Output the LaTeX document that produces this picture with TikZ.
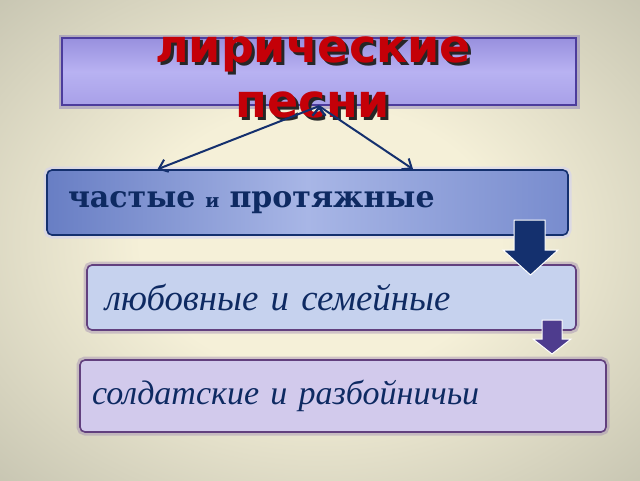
\documentclass[tikz,border=0pt]{standalone}
\usepackage{fontspec}
\usetikzlibrary{arrows.meta,calc}
\newfontfamily\titlefont{DejaVu Sans}
\newfontfamily\boxfont{DejaVu Serif}
\newfontfamily\italfont{Liberation Serif}
\definecolor{navy}{HTML}{14306E}
\definecolor{inknavy}{HTML}{0E2A62}
\definecolor{titlered}{HTML}{C40008}
\definecolor{lilac}{HTML}{4C3C9C}
\definecolor{plum}{HTML}{62407E}
\definecolor{beige}{HTML}{F5F0D8}
\definecolor{olivegrey}{HTML}{A6A696}
\definecolor{titletop}{RGB}{152,144,222}
\definecolor{titlemid}{RGB}{184,178,242}
\definecolor{titlebot}{RGB}{168,160,232}
\definecolor{fastleft}{RGB}{104,126,196}
\definecolor{fastmid}{RGB}{168,182,230}
\definecolor{fastright}{RGB}{120,140,206}
\definecolor{lovefill}{RGB}{198,210,238}
\definecolor{soldierfill}{RGB}{210,202,236}
\definecolor{violetarrow}{RGB}{78,60,142}
\pgfdeclareradialshading{hall}{\pgfpoint{0bp}{0bp}}{color(0bp)=(beige);
  color(14bp)=(beige); color(52bp)=(olivegrey); color(80bp)=(olivegrey)}

\begin{document}
\begin{tikzpicture}[x=1pt,y=-1pt,>={Straight Barb[length=8pt,width=13pt]},thick,
    box/.style={rounded corners=5pt,line width=1.6pt,text width=#1,align=left,
      inner ysep=0pt,minimum height=65pt},
    glow/.style={preaction={draw=#1,draw opacity=.45,line width=7pt}},
    link/.style={->,draw=navy,line width=2pt},
    bigarrow/.style={fill=#1,draw=white,line width=1pt}]
    % background
    \shade[shading=hall] (0,0) rectangle (640,480);
    \useasboundingbox (0,0) rectangle (640,480);

    % top box
    \node[draw=lilac,line width=2.2pt,glow=lilac!70,minimum width=514pt,minimum height=67pt,
      top color=titletop,bottom color=titlebot,middle color=titlemid,inner sep=0pt]
      (title) at (319,71.5) {};
    \node[align=center,text=black!85,font=\titlefont\bfseries\fontsize{46}{55}\selectfont]
      (titleshade) at (316,80) {лирические\\песни};
    \node[align=center,text=titlered,font=\titlefont\bfseries\fontsize{46}{55}\selectfont]
      (titletext) at (313,77) {лирические\\песни};

    % first level
    \node[box=479pt,draw=navy,glow=white!80!blue,inner xsep=21pt,
      left color=fastleft,right color=fastright,middle color=fastmid,
      text=inknavy,font=\boxfont\bfseries\fontsize{30}{34}\selectfont]
      (fast) at (307.5,202.5) {частые {\fontsize{19}{22}\selectfont и} протяжные};
    \path[link] (title.south) edge ($(fast.north west)!0.213!(fast.north east)$);
    \path[link] (title.south) edge ($(fast.north west)!0.702!(fast.north east)$);

    % second level
    \node[box=453pt,draw=plum,glow=plum!60,inner xsep=18pt,fill=lovefill,
      text=inknavy,font=\italfont\itshape\fontsize{36.8}{40}\selectfont]
      (love) at (331.5,297.5) {любовные и семейные};
    \filldraw[bigarrow=navy] (514,220) -- (545,220) -- (545,250) -- (558,250)
      -- (530.5,275) -- (503,250) -- (514,250) -- cycle;

    % third level
    \node[box=502pt,draw=plum,glow=plum!60,inner xsep=12pt,minimum height=72pt,
      fill=soldierfill,
      text=inknavy,font=\italfont\itshape\fontsize{34}{38}\selectfont]
      (soldier) at (343,396) {солдатские и разбойничьи};
    \filldraw[bigarrow=violetarrow] (542,320) -- (562,320) -- (562,339)
      -- (571,339) -- (552,354) -- (533,339) -- (542,339) -- cycle;
\end{tikzpicture}
\end{document}
